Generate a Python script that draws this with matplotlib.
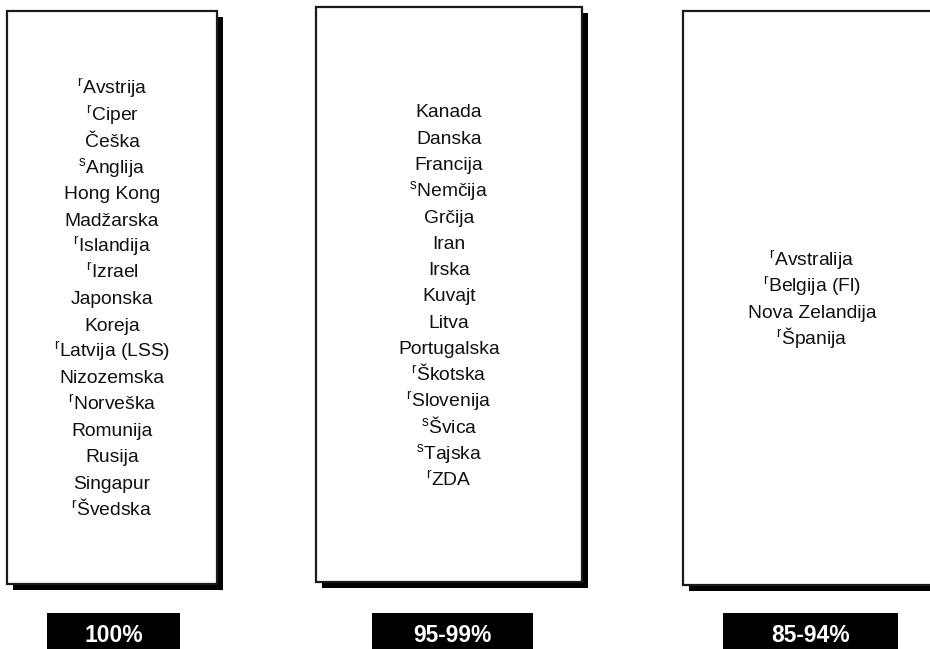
import matplotlib
matplotlib.use("Agg")
import matplotlib.pyplot as plt
from matplotlib.patches import Rectangle

plt.rcParams['font.family'] = ['Liberation Sans', 'DejaVu Sans']
plt.rcParams['mathtext.fontset'] = 'custom'
plt.rcParams['mathtext.rm'] = 'Liberation Sans'
plt.rcParams['mathtext.it'] = 'Liberation Sans'

# ---- data ----
categories = ['100%', '95-99%', '85-94%']

group1_countries = ['Avstrija', 'Ciper', 'Češka', 'Anglija', 'Hong Kong', 'Madžarska',
                    'Islandija', 'Izrael', 'Japonska', 'Koreja', 'Latvija (LSS)',
                    'Nizozemska', 'Norveška', 'Romunija', 'Rusija', 'Singapur', 'Švedska']
group1_marks = ['r', 'r', '', 's', '', '', 'r', 'r', '', '', 'r', '', 'r', '', '', '', 'r']

group2_countries = ['Kanada', 'Danska', 'Francija', 'Nemčija', 'Grčija', 'Iran', 'Irska',
                    'Kuvajt', 'Litva', 'Portugalska', 'Škotska', 'Slovenija', 'Švica',
                    'Tajska', 'ZDA']
group2_marks = ['', '', '', 's', '', '', '', '', '', '', 'r', 'r', 's', 's', 'r']

group3_countries = ['Avstralija', 'Belgija (Fl)', 'Nova Zelandija', 'Španija']
group3_marks = ['r', 'r', '', 'r']

groups = [(group1_countries, group1_marks),
          (group2_countries, group2_marks),
          (group3_countries, group3_marks)]

# ---- layout (pixel coordinates) ----
boxes = [(7, 11, 217, 584), (316, 7, 582, 582), (683, 11, 941, 585)]
labels_x = [(47, 180), (372, 533), (723, 898)]
label_y = (613, 662)
shadow = 6
line_gap = 26.3
font_px = 19.3
cap_h = 0.716 * font_px

fig = plt.figure(figsize=(9.3, 6.49), dpi=100)
ax = fig.add_axes([0, 0, 1, 1])
ax.set_xlim(0, 930)
ax.set_ylim(649, 0)
ax.axis('off')

fs = font_px * 72 / 100

for (x0, y0, x1, y1), (names, marks) in zip(boxes, groups):
    ax.add_patch(Rectangle((x0 + shadow, y0 + shadow), x1 - x0, y1 - y0,
                           facecolor='black', edgecolor='none', zorder=1))
    ax.add_patch(Rectangle((x0, y0), x1 - x0, y1 - y0,
                           facecolor='white', edgecolor='#1a1a1a', lw=1.6, zorder=2))
    cx = (x0 + x1) / 2
    cy = (y0 + y1) / 2
    n = len(names)
    for i, (name, mk) in enumerate(zip(names, marks)):
        yc = cy + (i - (n - 1) / 2) * line_gap
        s = (r'$^{\mathrm{%s}}$' % mk + name) if mk else name
        ax.text(cx, yc + cap_h / 2, s, ha='center', va='baseline',
                fontsize=fs, color='#111111', zorder=3)

for (lx0, lx1), cat in zip(labels_x, categories):
    ax.add_patch(Rectangle((lx0, label_y[0]), lx1 - lx0, label_y[1] - label_y[0],
                           facecolor='black', edgecolor='none', zorder=2))
    ax.text((lx0 + lx1) / 2, 634 + 8, cat, ha='center', va='baseline',
            fontsize=16.5, fontweight='bold', color='white', zorder=3)

fig.savefig('out.png', dpi=100)
